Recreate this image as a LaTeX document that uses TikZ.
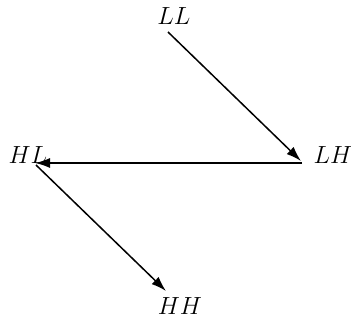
\documentclass[tikz,border=0pt]{standalone}
\usetikzlibrary{arrows.meta}
\begin{document}
\begin{tikzpicture}[x=1bp,y=-1bp,
  lbl/.style={inner sep=0pt,font=\fontsize{24}{28}\selectfont},
  arr/.style={line width=1.5bp,-{Latex[length=15bp,width=10bp]}}]
\useasboundingbox (0,0) rectangle (351,322);
\node[lbl] (LL) at (174,16) {$LL$};
\node[lbl] (LH) at (333,155) {$LH$};
\node[lbl] (HL) at (28,155) {$HL$};
\node[lbl] (HH) at (180,306) {$HH$};
\coordinate (a1) at (168,32);
\coordinate (a2) at (301,161);
\coordinate (b1) at (302,163);
\coordinate (b2) at (35,163);
\coordinate (c1) at (36,165);
\coordinate (c2) at (166,291);
\draw[arr] (a1) -- (a2);
\draw[arr] (b1) -- (b2);
\draw[arr] (c1) -- (c2);
\end{tikzpicture}
\end{document}
